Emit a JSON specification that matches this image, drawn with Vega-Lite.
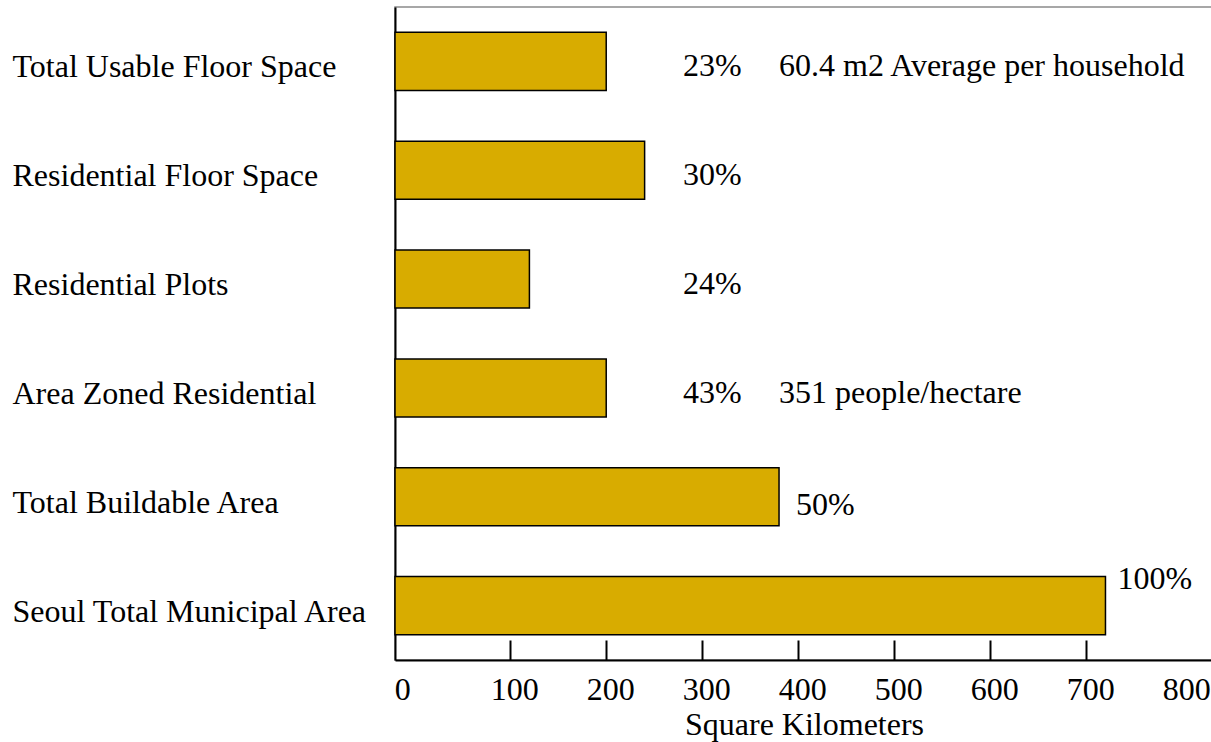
{
  "$schema": "https://vega.github.io/schema/vega-lite/v6.json",
  "autosize": {"type": "none"},
  "padding": {"left": 395, "top": 7, "right": 0, "bottom": 82},
  "width": 818,
  "height": 653,
  "background": "white",
  "config": {
    "font": "Liberation Serif",
    "view": {"stroke": "#8a8a8a", "strokeWidth": 1.5}
  },
  "data": {
    "values": [
      {"category": "Total Usable Floor Space", "km": 200, "share": "23%", "note": "60.4 m2 Average per household"},
      {"category": "Residential Floor Space", "km": 240, "share": "30%", "note": ""},
      {"category": "Residential Plots", "km": 120, "share": "24%", "note": ""},
      {"category": "Area Zoned Residential", "km": 200, "share": "43%", "note": "351 people/hectare"},
      {"category": "Total Buildable Area", "km": 380, "share": "50%", "note": ""},
      {"category": "Seoul Total Municipal Area", "km": 720, "share": "100%", "note": ""}
    ]
  },
  "encoding": {
    "y": {
      "field": "category",
      "type": "nominal",
      "sort": null,
      "scale": {"paddingInner": 0.467, "paddingOuter": 0.233},
      "axis": {
        "title": null,
        "ticks": false,
        "domainColor": "black",
        "domainWidth": 2,
        "labelAlign": "left",
        "labelBaseline": "middle",
        "labelPadding": 383,
        "labelOffset": 6,
        "labelFont": "Liberation Serif",
        "labelFontSize": 32,
        "labelColor": "black",
        "labelLimit": 0
      }
    }
  },
  "layer": [
    {
      "mark": {"type": "bar", "color": "#D8AC00", "stroke": "black", "strokeWidth": 1.5},
      "encoding": {
        "x": {
          "field": "km",
          "type": "quantitative",
          "scale": {"domain": [-20, 832], "nice": false, "zero": false},
          "axis": {
            "title": "Square Kilometers",
            "titleFont": "Liberation Serif",
            "titleFontSize": 32,
            "titleFontWeight": "normal",
            "titleColor": "black",
            "titlePadding": 4,
            "values": [0, 100, 200, 300, 400, 500, 600, 700, 800],
            "grid": false,
            "domainColor": "black",
            "domainWidth": 2,
            "tickColor": "black",
            "tickWidth": 2,
            "tickSize": -20,
            "tickOpacity": {"condition": {"test": "datum.value == 0 || datum.value == 800", "value": 0}, "value": 1},
            "labelOffset": {"condition": {"test": "datum.value == 0", "value": -12}, "value": 4},
            "labelPadding": 34,
            "labelFont": "Liberation Serif",
            "labelFontSize": 32,
            "labelColor": "black",
            "labelFlush": false,
            "labelOverlap": false
          }
        },
        "x2": {"datum": -20}
      }
    },
    {
      "transform": [{"filter": "datum.km < 300"}],
      "mark": {"type": "text", "align": "left", "baseline": "middle", "dy": 5, "font": "Liberation Serif", "fontSize": 32, "color": "black"},
      "encoding": {
        "x": {"datum": 280, "type": "quantitative"},
        "text": {"field": "share"}
      }
    },
    {
      "transform": [{"filter": "datum.km >= 300 && datum.km < 500"}],
      "mark": {"type": "text", "align": "left", "baseline": "middle", "dx": 17, "dy": 8, "font": "Liberation Serif", "fontSize": 32, "color": "black"},
      "encoding": {
        "x": {"field": "km", "type": "quantitative"},
        "text": {"field": "share"}
      }
    },
    {
      "transform": [{"filter": "datum.km >= 500"}],
      "mark": {"type": "text", "align": "left", "baseline": "middle", "dx": 12, "dy": -27, "font": "Liberation Serif", "fontSize": 32, "color": "black"},
      "encoding": {
        "x": {"field": "km", "type": "quantitative"},
        "text": {"field": "share"}
      }
    },
    {
      "transform": [{"filter": "datum.note != ''"}],
      "mark": {"type": "text", "align": "left", "baseline": "middle", "dy": 5, "font": "Liberation Serif", "fontSize": 32, "color": "black"},
      "encoding": {
        "x": {"datum": 380, "type": "quantitative"},
        "text": {"field": "note"}
      }
    }
  ]
}
